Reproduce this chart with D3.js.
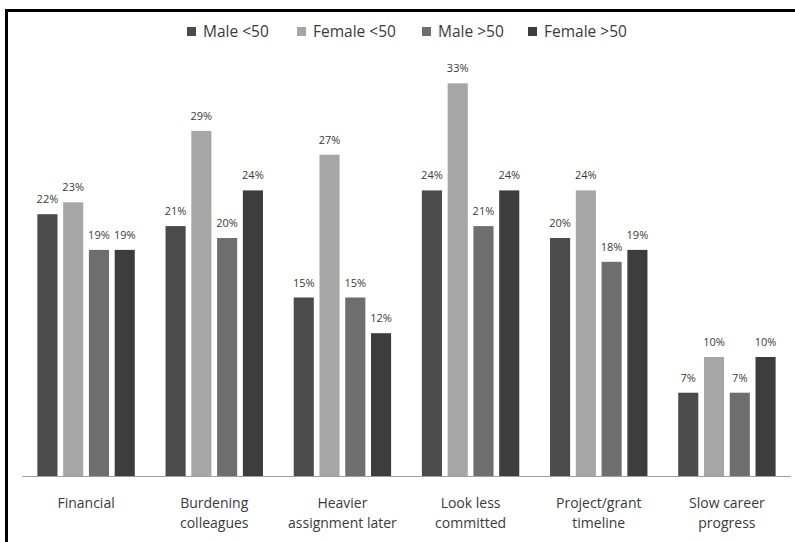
<!DOCTYPE html>
<html>
<head>
<meta charset="utf-8">
<script src="https://cdn.jsdelivr.net/npm/d3@7"></script>
<style>
  html, body { margin: 0; padding: 0; background: #fff; }
  svg { display: block; }
</style>
</head>
<body>
<svg id="chart" width="795" height="542"></svg>
<script>
// Reasons cited, by age/gender group (percent of respondents)
const categories = [
  ["Financial"],
  ["Burdening", "colleagues"],
  ["Heavier", "assignment later"],
  ["Look less", "committed"],
  ["Project/grant", "timeline"],
  ["Slow career", "progress"]
];
const seriesNames = ["Male <50", "Female <50", "Male >50", "Female >50"];
const maleUnder50   = [22, 21, 15, 24, 20, 7];
const femaleUnder50 = [23, 29, 27, 33, 24, 10];
const maleOver50    = [19, 20, 15, 21, 18, 7];
const femaleOver50  = [19, 24, 12, 24, 19, 10];
const seriesValues = [maleUnder50, femaleUnder50, maleOver50, femaleOver50];
const seriesColors = ["#4b4b4b", "#a6a6a6", "#6e6e6e", "#3d3d3d"];

const svg = d3.select("#chart");
const font = "'Open Sans', sans-serif";
const textColor = "#3a3a3a";

// frame: top and left rules
svg.append("line").attr("x1", 5).attr("x2", 795).attr("y1", 10.5).attr("y2", 10.5)
  .attr("stroke", "#000").attr("stroke-width", 3);
svg.append("line").attr("x1", 6.5).attr("x2", 6.5).attr("y1", 9).attr("y2", 542)
  .attr("stroke", "#000").attr("stroke-width", 3);

const x0 = d3.scaleBand()
  .domain(d3.range(categories.length))
  .range([22, 791])
  .paddingInner(0.24)
  .paddingOuter(0.12);

const x1 = d3.scaleBand()
  .domain(d3.range(seriesNames.length))
  .range([0, x0.bandwidth()])
  .paddingInner(0.22)
  .paddingOuter(0);

const y = d3.scaleLinear().domain([0, 35]).range([476, 59.5]);

// bars
const groups = svg.append("g").selectAll("g")
  .data(categories.map((c, i) => i))
  .join("g")
  .attr("transform", i => `translate(${x0(i)},0)`);

groups.selectAll("rect")
  .data(i => seriesValues.map((vals, s) => ({ s, v: vals[i] })))
  .join("rect")
  .attr("x", d => x1(d.s))
  .attr("width", x1.bandwidth())
  .attr("y", d => y(d.v))
  .attr("height", d => y(0) - y(d.v))
  .attr("fill", d => seriesColors[d.s]);

// value labels
groups.selectAll("text")
  .data(i => seriesValues.map((vals, s) => ({ s, v: vals[i] })))
  .join("text")
  .attr("x", d => x1(d.s) + x1.bandwidth() / 2)
  .attr("y", d => y(d.v) - 11)
  .attr("text-anchor", "middle")
  .attr("font-family", font)
  .attr("font-size", 11)
  .attr("fill", textColor)
  .text(d => d.v + "%");

// category axis
const axis = svg.append("g")
  .attr("transform", `translate(0,${y(0)})`)
  .call(d3.axisBottom(x0).tickSize(0).tickFormat(""));
axis.select(".domain").attr("stroke", "#a0a0a0").attr("stroke-width", 1)
  .attr("d", "M22,0.5H791");

const catLabels = svg.append("g").selectAll("text")
  .data(categories.map((c, i) => ({ c, i })))
  .join("text")
  .attr("x", d => x0(d.i) + x0.bandwidth() / 2)
  .attr("y", 508)
  .attr("text-anchor", "middle")
  .attr("font-family", font)
  .attr("font-size", 14)
  .attr("fill", textColor);
catLabels.selectAll("tspan")
  .data(d => d.c.map((line, k) => ({ line, k, x: x0(d.i) + x0.bandwidth() / 2 })))
  .join("tspan")
  .attr("x", d => d.x)
  .attr("dy", d => d.k === 0 ? 0 : 20)
  .text(d => d.line);

// legend
const legendX = [187, 297, 422, 528];
const legend = svg.append("g").selectAll("g")
  .data(seriesNames.map((n, s) => ({ n, s })))
  .join("g")
  .attr("transform", d => `translate(${legendX[d.s]},27)`);
legend.append("rect").attr("width", 9).attr("height", 9)
  .attr("fill", d => seriesColors[d.s]);
legend.append("text")
  .attr("x", 16).attr("y", 10)
  .attr("font-family", font).attr("font-size", 15.5)
  .attr("fill", textColor)
  .text(d => d.n);
</script>
</body>
</html>
